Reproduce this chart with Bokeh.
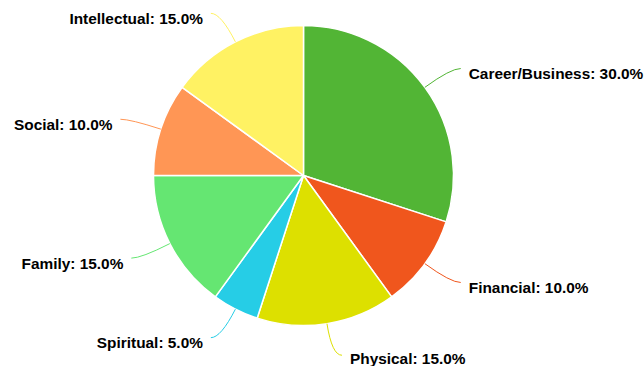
import numpy as np
from bokeh.plotting import figure
from bokeh.models import ColumnDataSource, Range1d
from bokeh.embed import file_html
from bokeh.resources import INLINE
from bokeh.core.properties import value

categories = ["Career/Business", "Financial", "Physical", "Spiritual", "Family", "Social", "Intellectual"]
values = [30, 10, 15, 5, 15, 10, 15]
colors = ["#52b535", "#f0561d", "#dde000", "#26cde6", "#65e672", "#ff9655", "#fff263"]

W, H = 644, 366
cx, cy = 303, 191
R = 150
R_KNEE = 182

vals = np.array(values, dtype=float)
frac = vals / vals.sum()
cum = np.concatenate([[0.0], np.cumsum(frac)])
start_t = cum[:-1] * 2 * np.pi   # clockwise from top
end_t = cum[1:] * 2 * np.pi
mid_t = (start_t + end_t) / 2

p = figure(width=W, height=H, output_backend="svg", toolbar_location=None,
           x_range=Range1d(0, W), y_range=Range1d(0, H),
           x_axis_type=None, y_axis_type=None,
           min_border=0, min_border_left=0, min_border_right=0,
           min_border_top=0, min_border_bottom=0)
p.grid.visible = False
p.outline_line_color = None
p.background_fill_color = "white"

wedges = ColumnDataSource(dict(
    start=np.pi / 2 - start_t, end=np.pi / 2 - end_t, color=colors, cat=categories))
p.wedge(x=cx, y=cy, radius=R, start_angle="start", end_angle="end", direction="clock",
        fill_color="color", line_color="white", line_width=1.5, source=wedges)

side = np.where(np.sin(mid_t) >= 0, 1, -1)
x0 = cx + R * np.sin(mid_t)
y0 = cy + R * np.cos(mid_t)
kx = cx + R_KNEE * np.sin(mid_t)
ky = cy + R_KNEE * np.cos(mid_t)
x1 = kx + 10 * side
y1 = ky
p.quadratic(x0=x0, y0=y0, x1=x1, y1=y1, cx=kx, cy=ky, line_color=colors, line_width=1)

lx = x1 + 8 * side
ly = np.maximum(y1 - 5, 8)
labels = ColumnDataSource(dict(
    x=lx, y=ly,
    text=[f"{c}: {f*100:.1f}%" for c, f in zip(categories, frac)],
    align=["left" if s > 0 else "right" for s in side]))
p.text(x="x", y="y", text="text", text_align="align", text_baseline="middle",
       text_font=value("Liberation Sans"), text_font_style="bold",
       text_font_size="15.4px", text_color="#000000", source=labels)

open("out.html", "w").write(file_html(p, INLINE))
